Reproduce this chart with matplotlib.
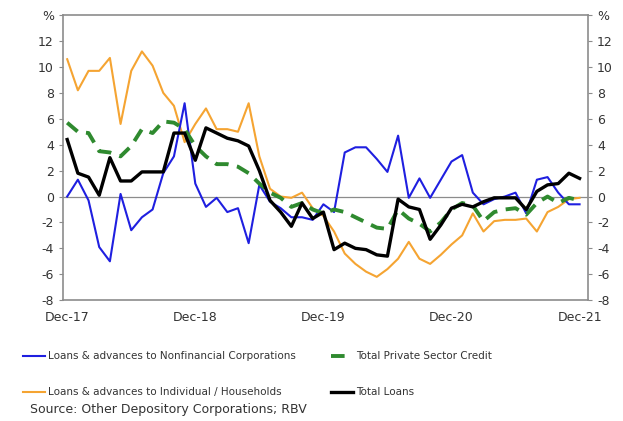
import matplotlib
matplotlib.use("Agg")
import matplotlib.pyplot as plt
import numpy as np

# Monthly growth rates, Dec-17 .. Dec-21 (%)
nonfin_corp = [0.0, 1.3, -0.3, -3.9, -5.0, 0.2, -2.6, -1.6, -1.0, 1.8,
               3.1, 7.2, 1.0, -0.8, -0.1, -1.2, -0.9, -3.6, 0.9, -0.4,
               -0.9, -1.6, -1.6, -1.8, -0.6, -1.2, 3.4, 3.8, 3.8, 2.9,
               1.9, 4.7, -0.1, 1.4, -0.1, 1.3, 2.7, 3.2, 0.3, -0.6,
               -0.2, 0.0, 0.3, -1.3, 1.3, 1.5, 0.3, -0.6, -0.6]
households = [10.6, 8.2, 9.7, 9.7, 10.7, 5.6, 9.7, 11.2, 10.1, 8.0,
              7.0, 4.2, 5.6, 6.8, 5.2, 5.2, 5.0, 7.2, 3.1, 0.6,
              0.0, -0.1, 0.3, -0.9, -1.5, -2.7, -4.4, -5.2, -5.8, -6.2,
              -5.6, -4.8, -3.5, -4.8, -5.2, -4.5, -3.7, -3.0, -1.3, -2.7,
              -1.9, -1.8, -1.8, -1.7, -2.7, -1.2, -0.8, -0.2, -0.1]
private_credit = [5.7, 5.0, 4.9, 3.5, 3.4, 3.1, 3.9, 5.2, 4.9, 5.8,
                  5.7, 5.2, 3.9, 3.1, 2.5, 2.5, 2.3, 1.8, 1.0, 0.3,
                  -0.1, -0.8, -0.5, -1.0, -1.3, -1.0, -1.2, -1.6, -2.0, -2.4,
                  -2.5, -1.0, -1.7, -2.1, -2.7, -2.0, -1.0, -0.5, -0.7, -1.9,
                  -1.2, -1.0, -0.9, -1.4, -0.5, 0.0, -0.5, -0.1, -0.3]
total_loans = [4.4, 1.8, 1.5, 0.1, 3.0, 1.2, 1.2, 1.9, 1.9, 1.9,
               4.9, 4.9, 2.8, 5.3, 4.9, 4.5, 4.3, 3.9, 2.0, -0.3,
               -1.2, -2.3, -0.5, -1.7, -1.2, -4.1, -3.6, -4.0, -4.1, -4.5,
               -4.6, -0.2, -0.8, -1.0, -3.3, -2.2, -0.9, -0.6, -0.8, -0.4,
               -0.1, -0.1, -0.1, -1.0, 0.4, 0.9, 1.0, 1.8, 1.4]

x_labels = ["Dec-17", "Dec-18", "Dec-19", "Dec-20", "Dec-21"]
y_ticks = [-8, -6, -4, -2, 0, 2, 4, 6, 8, 10, 12, 14]
y_labels = ["-8", "-6", "-4", "-2", "0", "2", "4", "6", "8", "10", "12", "%"]

GREY = "#8c8c8c"
TXT = "#333333"

months = np.arange(len(total_loans))

fig = plt.figure(figsize=(6.23, 4.21), dpi=100)
ax = fig.add_axes([0.101, 0.287, 0.843, 0.677])

ax.axhline(0, color=GREY, lw=0.9, zorder=1)
l_hh, = ax.plot(months, households, color="#f5a432", lw=1.5, zorder=2)
l_nf, = ax.plot(months, nonfin_corp, color="#1f1fe0", lw=1.5, zorder=3)
l_pc, = ax.plot(months, private_credit, color="#2f8a2f", lw=2.8,
                ls=(0, (3.5, 2.2)), zorder=4)
l_tl, = ax.plot(months, total_loans, color="black", lw=2.4, zorder=5)

ax.set_xlim(-0.4, 48.8)
ax.set_ylim(-8, 14)
ax.set_xticks(np.arange(0, 49, 12))
ax.set_xticklabels(x_labels)
ax.set_yticks(y_ticks)
ax.set_yticklabels(y_labels)
ax.tick_params(axis="x", length=0, pad=8, labelsize=9, labelcolor=TXT)
ax.tick_params(axis="y", length=3, width=0.8, color=GREY, labelsize=9,
               labelcolor=TXT, left=True, right=True,
               labelleft=True, labelright=True)
for s in ax.spines.values():
    s.set_color(GREY)
    s.set_linewidth(1.2)

# two rows: [nonfin, private credit], [households, total loans]
fig.legend([l_nf, l_hh, l_pc, l_tl],
           ["Loans & advances to Nonfinancial Corporations",
            "Loans & advances to Individual / Households",
            "Total Private Sector Credit", "Total Loans"],
           ncol=2, loc="upper left", bbox_to_anchor=(0.028, 0.178),
           frameon=False, fontsize=7.5, handlelength=2.1, handletextpad=0.3,
           labelspacing=2.5, columnspacing=3.4, borderpad=0, labelcolor=TXT)

fig.text(0.048, 0.012, "Source: Other Depository Corporations; RBV",
         fontsize=9, color=TXT, ha="left", va="bottom")

fig.savefig("out.png", dpi=100)
